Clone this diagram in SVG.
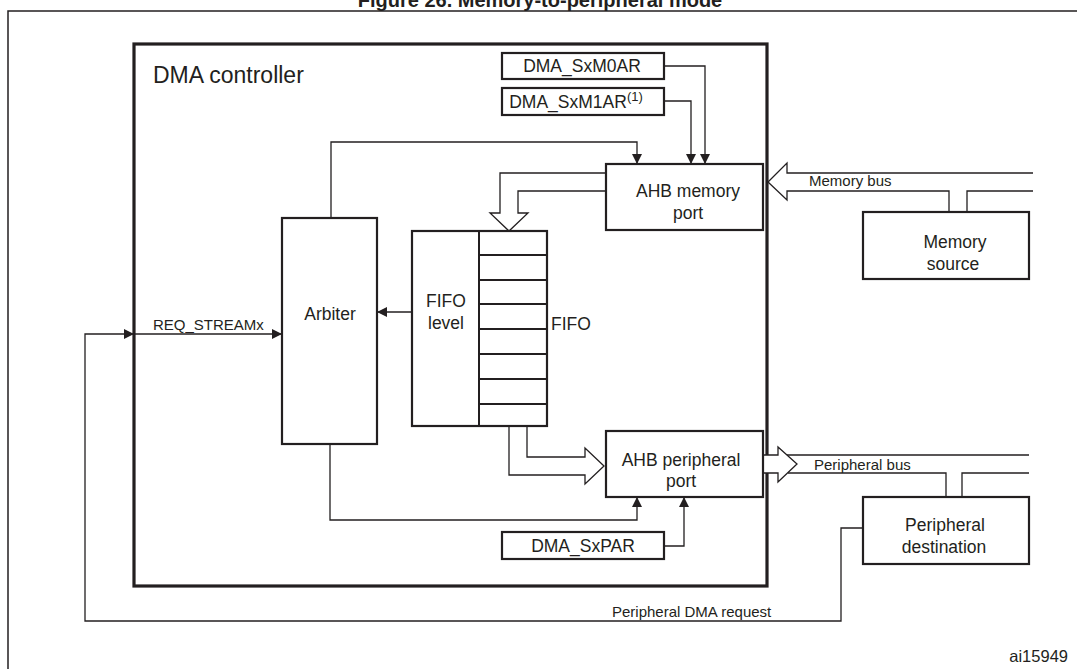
<svg xmlns="http://www.w3.org/2000/svg" width="1077" height="669" viewBox="0 0 1077 669">
<style>
text{font-family:"Liberation Sans",Arial,sans-serif;fill:#231f20}
.box{fill:#fff;stroke:#231f20;stroke-width:2.2}
.ln{fill:none;stroke:#231f20;stroke-width:1.3}
.hol{fill:#fff;stroke:#231f20;stroke-width:1.3;stroke-linejoin:miter}
.t15{font-size:17.5px}
.t13{font-size:15px}
</style>
<defs>
<marker id="ah" viewBox="0 0 10 10" refX="10" refY="5" markerWidth="10" markerHeight="10" markerUnits="userSpaceOnUse" orient="auto">
<path d="M0,0 L10,5 L0,10 z" fill="#231f20"/>
</marker>
</defs>
<rect width="1077" height="669" fill="#fff"/>
<text x="540" y="7" font-size="20" font-weight="bold" text-anchor="middle">Figure 26. Memory-to-peripheral mode</text>
<path d="M8,669 V11 H1077" fill="none" stroke="#231f20" stroke-width="1.5"/>
<g id="dma-controller">
<rect x="134" y="44" width="633" height="542" fill="none" stroke="#231f20" stroke-width="3.2"/>
<text x="153" y="83" font-size="23">DMA controller</text>
</g>
<g id="connectors">
<path class="ln" d="M664,66 H705 V164" marker-end="url(#ah)"/>
<path class="ln" d="M664,101 H691 V164" marker-end="url(#ah)"/>
<path class="ln" d="M331,218 V142 H637 V164" marker-end="url(#ah)"/>
<path class="ln" d="M412,312 H377" marker-end="url(#ah)"/>
<path class="ln" d="M330,444 V520 H637 V497" marker-end="url(#ah)"/>
<path class="ln" d="M664,546 H684 V497" marker-end="url(#ah)"/>
<path class="ln" d="M863,528 H841 V621 H85 V334 H134" marker-end="url(#ah)"/>
<path class="ln" d="M134,334 H282" marker-end="url(#ah)"/>
<path class="hol" d="M606,173 H500 V213 H490 L509,231 L528,213 H518 V191 H606"/>
<path class="hol" d="M509,426 V475 H585 V484 L604,466 L585,448 V457 H527 V426"/>
<path class="hol" d="M1033,173 H787 V163 L768,182 L787,200 V191 H949 V212"/>
<path class="ln" d="M967,212 V191 H1033"/>
<path class="hol" d="M763,455 H778 V447 L797,464 L778,482 V473 H763"/>
<path class="ln" d="M787,455 H1029 M788,473 H946 V497 M962,497 V473 H1029"/>
<text x="809" y="186" class="t13">Memory bus</text>
<text x="814" y="470" class="t13">Peripheral bus</text>
<text x="153" y="330" class="t13">REQ_STREAMx</text>
<text x="612" y="617" class="t13">Peripheral DMA request</text>
</g>
<g id="m0ar"><rect class="box" x="502" y="53" width="162" height="26"/><text x="582" y="72" class="t15" text-anchor="middle">DMA_SxM0AR</text></g>
<g id="m1ar"><rect class="box" x="502" y="88" width="162" height="27"/><text x="576" y="108" class="t15" text-anchor="middle">DMA_SxM1AR<tspan font-size="13" dy="-7">(1)</tspan></text></g>
<g id="ahb-mem"><rect class="box" x="606" y="164" width="157" height="66"/><text x="688" y="197" class="t15" text-anchor="middle">AHB memory</text><text x="688" y="219" class="t15" text-anchor="middle">port</text></g>
<g id="arbiter"><rect class="box" x="282" y="218" width="95" height="226"/><text x="330" y="320" class="t15" text-anchor="middle">Arbiter</text></g>
<g id="fifo">
<rect class="box" x="412" y="231" width="135" height="195"/>
<path d="M479,231 V426 M479,255 H547 M479,280 H547 M479,304 H547 M479,329 H547 M479,354 H547 M479,379 H547 M479,404 H547" stroke="#231f20" stroke-width="2" fill="none"/>
<text x="446" y="307" class="t15" text-anchor="middle">FIFO</text>
<text x="446" y="329" class="t15" text-anchor="middle">level</text>
<text x="551" y="330" class="t15">FIFO</text>
</g>
<g id="ahb-per"><rect class="box" x="606" y="431" width="157" height="66"/><text x="681" y="466" class="t15" text-anchor="middle">AHB peripheral</text><text x="681" y="487" class="t15" text-anchor="middle">port</text></g>
<g id="sxpar"><rect class="box" x="502" y="532" width="162" height="27"/><text x="583" y="552" class="t15" text-anchor="middle">DMA_SxPAR</text></g>
<g id="mem-src"><rect class="box" x="863" y="212" width="166" height="67"/><text x="955" y="248" class="t15" text-anchor="middle">Memory</text><text x="953" y="270" class="t15" text-anchor="middle">source</text></g>
<g id="per-dst"><rect class="box" x="863" y="497" width="166" height="67"/><text x="945" y="531" class="t15" text-anchor="middle">Peripheral</text><text x="944" y="553" class="t15" text-anchor="middle">destination</text></g>
<text x="1068" y="662" font-size="16.5" text-anchor="end">ai15949</text>
</svg>
